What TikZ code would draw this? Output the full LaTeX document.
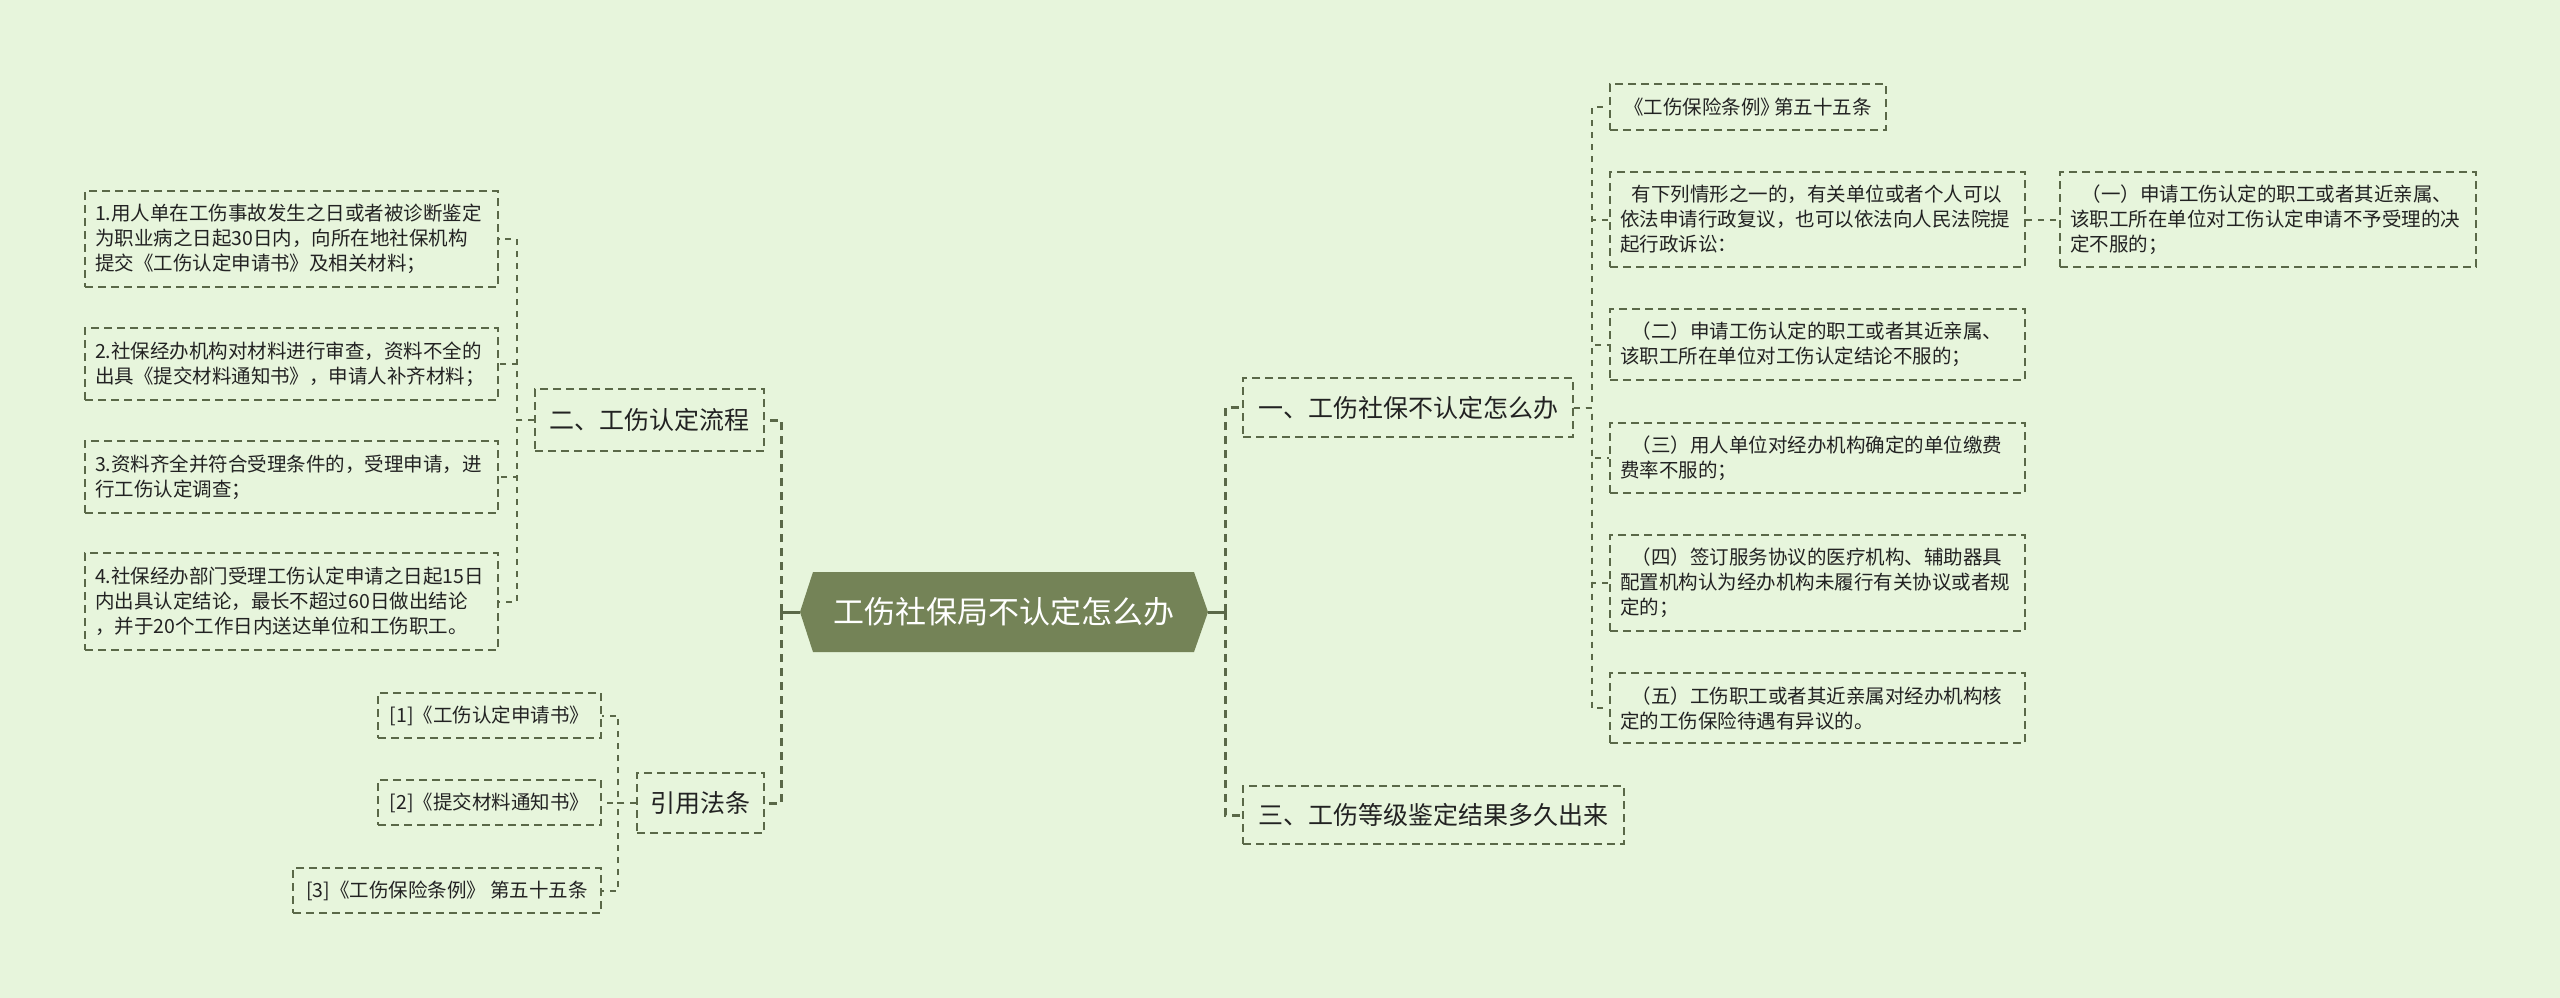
\documentclass[tikz,border=0pt]{standalone}
\usepackage{fontspec}
\setmainfont{Noto Sans CJK SC}
\usetikzlibrary{calc}
\definecolor{bg}{RGB}{231,245,220}
\definecolor{edge}{RGB}{90,104,72}
\definecolor{hexfill}{RGB}{116,131,87}
\definecolor{txt}{RGB}{34,34,34}
\begin{document}
\begin{tikzpicture}[x=1pt,y=-1pt,
 box/.style={draw=edge, line width=1.8pt, dash pattern=on 8pt off 5pt, inner xsep=10pt, inner ysep=0pt, align=left, text=txt, font=\fontsize{19.5}{25}\selectfont},
 sbox/.style={box, align=center},
 topic/.style={draw=edge, line width=1.8pt, dash pattern=on 8pt off 5pt, inner sep=0pt, text=txt, font=\fontsize{25}{30}\selectfont},
 conn/.style={draw=edge, line width=2pt, dash pattern=on 6pt off 6pt},
 mainconn/.style={draw=edge, line width=3pt, dash pattern=on 8pt off 6pt},
 rootstub/.style={draw=edge, line width=3pt},
 rootnode/.style={inner sep=0pt, minimum width=408pt, minimum height=80pt, text=white, font=\fontsize{31}{36}\selectfont}
]
\useasboundingbox (0,0) rectangle (2560,998);
\fill[bg] (0,0) rectangle (2560,998);

% root
\coordinate (rc) at (1004,612);
\fill[hexfill] ($(rc)+(-204,0)$) -- ($(rc)+(-191,-40)$) -- ($(rc)+(190,-40)$) -- ($(rc)+(204,0)$) -- ($(rc)+(190,40)$) -- ($(rc)+(-191,40)$) -- cycle;
\node[rootnode] (root) at (rc) {工伤社保局不认定怎么办};

% level 1
\node[topic, minimum width=229pt, minimum height=62pt] (b2) at (649.5,420) {二、工伤认定流程};
\node[topic, minimum width=127pt, minimum height=60pt] (b4) at (700.5,803) {引用法条};
\node[topic, minimum width=330pt, minimum height=59pt] (b1) at (1408,407.5) {一、工伤社保不认定怎么办};
\node[topic, minimum width=381pt, minimum height=58pt] (b3) at (1433.5,815) {三、工伤等级鉴定结果多久出来};

% left children
\node[box, text width=393pt, minimum height=96pt] (l1) at (291.5,239) {1.用人单在工伤事故发生之日或者被诊断鉴定\\为职业病之日起30日内，向所在地社保机构\\提交《工伤认定申请书》及相关材料；};
\node[box, text width=393pt, minimum height=72pt] (l2) at (291.5,364) {2.社保经办机构对材料进行审查，资料不全的\\出具《提交材料通知书》，申请人补齐材料；};
\node[box, text width=393pt, minimum height=72pt] (l3) at (291.5,477) {3.资料齐全并符合受理条件的，受理申请，进\\行工伤认定调查；};
\node[box, text width=393pt, minimum height=97pt] (l4) at (291.5,601.5) {4.社保经办部门受理工伤认定申请之日起15日\\内出具认定结论，最长不超过60日做出结论\\，并于20个工作日内送达单位和工伤职工。};

% references
\node[sbox, minimum width=223pt, minimum height=45pt] (r1) at (489.5,715.5) {[1]《工伤认定申请书》};
\node[sbox, minimum width=223pt, minimum height=45pt] (r2) at (489.5,802.5) {[2]《提交材料通知书》};
\node[sbox, minimum width=308pt, minimum height=45pt] (r3) at (447,890.5) {[3]《工伤保险条例》 第五十五条};

% right children
\node[sbox, minimum width=276pt, minimum height=46pt] (c0) at (1748,107) {《工伤保险条例》\kern-0.3em 第五十五条};
\node[box, text width=395pt, minimum height=95pt] (c1) at (1817.5,219.5) {\hspace*{0.6em}有下列情形之一的，有关单位或者个人可以\\依法申请行政复议，也可以依法向人民法院提\\起行政诉讼：};
\node[box, text width=395pt, minimum height=71pt] (c2) at (1817.5,344.5) {\hspace*{0.6em}（二）申请工伤认定的职工或者其近亲属、\\该职工所在单位对工伤认定结论不服的；};
\node[box, text width=395pt, minimum height=70pt] (c3) at (1817.5,458) {\hspace*{0.6em}（三）用人单位对经办机构确定的单位缴费\\费率不服的；};
\node[box, text width=395pt, minimum height=96pt] (c4) at (1817.5,583) {\hspace*{0.6em}（四）签订服务协议的医疗机构、辅助器具\\配置机构认为经办机构未履行有关协议或者规\\定的；};
\node[box, text width=395pt, minimum height=70pt] (c5) at (1817.5,708) {\hspace*{0.6em}（五）工伤职工或者其近亲属对经办机构核\\定的工伤保险待遇有异议的。};
\node[box, text width=396pt, minimum height=95pt] (d1) at (2268,219.5) {\hspace*{0.6em}（一）申请工伤认定的职工或者其近亲属、\\该职工所在单位对工伤认定申请不予受理的决\\定不服的；};

% connectors
\coordinate (lt) at ($(root.west)+(-18,0)$);
\coordinate (rt) at ($(root.east)+(17,0)$);
\draw[rootstub] (root.west) -- (lt);
\draw[rootstub] (root.east) -- (rt);
\draw[mainconn] (lt) |- (b2.east);
\draw[mainconn] (lt) |- (b4.east);
\draw[mainconn] (rt) |- (b1.west);
\draw[mainconn] (rt) |- (b3.west);
\foreach \c in {l1,l2,l3,l4} \draw[conn] (b2.west) -- ++(-17,0) |- (\c.east);
\foreach \c in {r1,r2,r3} \draw[conn] (b4.west) -- ++(-18,0) |- (\c.east);
\foreach \c in {c0,c1,c2,c3,c4,c5} \draw[conn] (b1.east) -- ++(18,0) |- (\c.west);
\draw[conn] (c1.east) -- (d1.west);
\end{tikzpicture}
\end{document}
